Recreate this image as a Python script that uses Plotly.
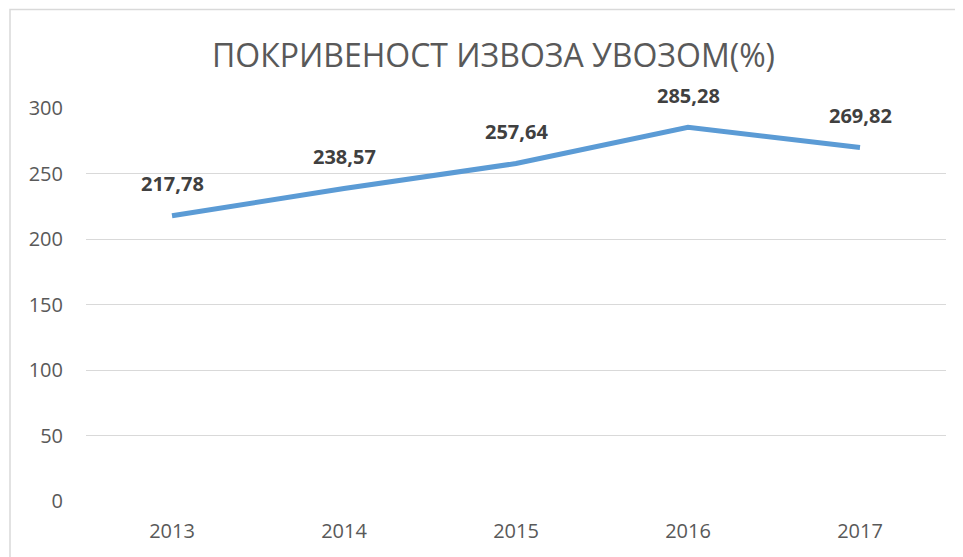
import plotly.graph_objects as go

years = ["2013", "2014", "2015", "2016", "2017"]
coverage = [217.78, 238.57, 257.64, 285.28, 269.82]
y_ticks = [0, 50, 100, 150, 200, 250, 300]
title_text = "ПОКРИВЕНОСТ ИЗВОЗА УВОЗОМ(%)"

OFF = 8  # default page body margin
W, H = 963 - OFF, 557 - OFF
L, R, T, B = 86 - OFF, 17, 108 - OFF, 56
pw, ph = W - L - R, H - T - B

fig = go.Figure()
fig.add_trace(go.Scatter(
    x=years, y=coverage, mode="lines",
    line=dict(color="#5B9BD5", width=5),
    hoverinfo="skip", showlegend=False,
))

for i, v in enumerate(coverage):
    fig.add_annotation(
        x=i, y=v, xref="x", yref="y",
        text="<b>" + f"{v:.2f}".replace(".", ",") + "</b>",
        showarrow=False, yshift=32,
        font=dict(family="Open Sans", size=20, color="#404040"),
    )

fig.add_annotation(
    x=(493 - 86) / pw, y=1 + (108 - 54) / ph, xref="paper", yref="paper",
    text=title_text, showarrow=False, yanchor="middle", xanchor="center",
    font=dict(family="Open Sans", size=32, color="#595959"),
)

# chart border (outer frame, partially cropped)
fig.add_shape(
    type="rect", xref="paper", yref="paper",
    x0=(10 - 86) / pw, x1=(W + 20 - L) / pw,
    y0=-(B + 20) / ph, y1=1 + (108 - 9.5) / ph,
    line=dict(color="#D9D9D9", width=1.5), fillcolor="rgba(0,0,0,0)",
)

fig.update_layout(
    width=W, height=H,
    margin=dict(l=L, r=R, t=T, b=B),
    paper_bgcolor="white", plot_bgcolor="white",
    xaxis=dict(
        type="category", range=[-0.5, 4.5],
        showgrid=False, zeroline=False, showline=False,
        ticks="outside", ticklen=12, tickcolor="rgba(0,0,0,0)",
        tickfont=dict(family="Open Sans", size=20, color="#595959"),
        fixedrange=True,
    ),
    yaxis=dict(
        range=[0, 300], tickvals=y_ticks,
        showgrid=True, gridcolor="#D9D9D9", gridwidth=1.3,
        zeroline=False, showline=False,
        ticks="outside", ticklen=18, tickcolor="rgba(0,0,0,0)",
        tickfont=dict(family="Open Sans", size=20, color="#595959"),
        fixedrange=True,
    ),
)

fig.write_html("out.html")
